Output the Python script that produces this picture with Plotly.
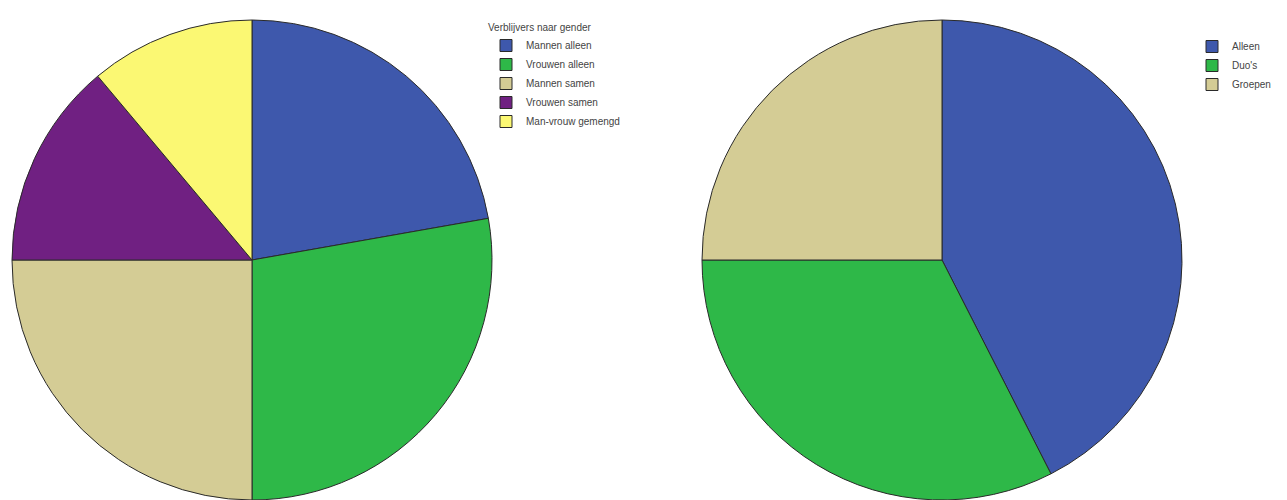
import plotly.graph_objects as go

# Left pie: residents by gender
gender_labels = ["Mannen alleen", "Vrouwen alleen", "Mannen samen", "Vrouwen samen", "Man-vrouw gemengd"]
gender_values = [8, 10, 9, 5, 4]
gender_colors = ["#3E58AC", "#2EB848", "#D4CC95", "#702082", "#FBF873"]
gender_title = "Verblijvers naar gender"

# Right pie: group size
group_labels = ["Alleen", "Duo's", "Groepen"]
group_values = [17, 13, 10]
group_colors = ["#3E58AC", "#2EB848", "#D4CC95"]

# the page body adds an 8px margin, so the figure is sized to fit the window
W, H = 1279, 492
T = 12
PH = H - T
FONT = "Liberation Sans, Arial, sans-serif"

fig = go.Figure()
fig.add_trace(go.Pie(
    labels=gender_labels, values=gender_values,
    marker=dict(colors=gender_colors, line=dict(color="#2a2a2a", width=1)),
    sort=False, direction="clockwise", rotation=0,
    textinfo="none", hoverinfo="label+value+percent",
    domain=dict(x=[0, 488 / W], y=[0, 1]),
    legend="legend",
))
fig.add_trace(go.Pie(
    labels=group_labels, values=group_values,
    marker=dict(colors=group_colors, line=dict(color="#2a2a2a", width=1)),
    sort=False, direction="clockwise", rotation=0,
    textinfo="none", hoverinfo="label+value+percent",
    domain=dict(x=[684 / W, 1184 / W], y=[0, 1]),
    legend="legend2",
))

fig.update_layout(
    width=W, height=H,
    margin=dict(l=0, r=0, t=T, b=0),
    paper_bgcolor="white", plot_bgcolor="white",
    font=dict(family=FONT, size=10, color="#444"),
    legend=dict(
        title=dict(text=gender_title, font=dict(family=FONT, size=10, color="#444")),
        x=478 / W, xanchor="left", y=1 + 2 / PH, yanchor="top",
        bgcolor="rgba(0,0,0,0)", font=dict(family=FONT, size=10, color="#444"),
        itemclick=False, itemdoubleclick=False,
    ),
    legend2=dict(
        x=1184 / W, xanchor="left", y=1 - 12 / PH, yanchor="top",
        bgcolor="rgba(0,0,0,0)", font=dict(family=FONT, size=10, color="#444"),
        itemclick=False, itemdoubleclick=False,
    ),
)

fig.write_html("out.html")
